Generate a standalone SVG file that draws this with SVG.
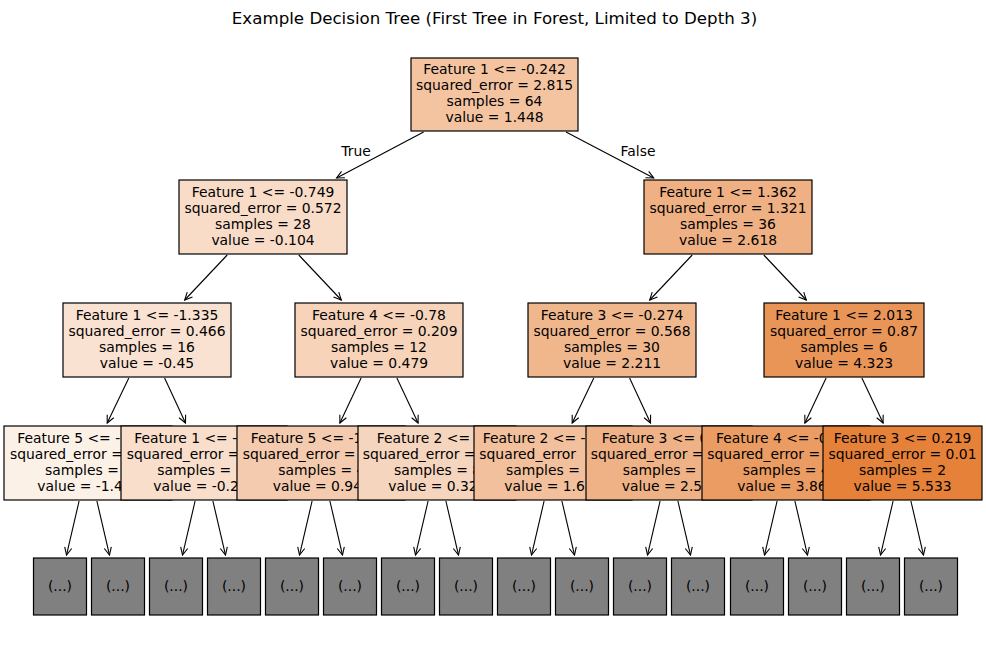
<svg xmlns="http://www.w3.org/2000/svg" width="986" height="658" viewBox="0 0 986 658">
<style>
text{font-family:"DejaVu Sans",Verdana,sans-serif;font-size:13.9px;fill:#000}
.c{text-anchor:middle}
.title{font-size:16.67px;text-anchor:middle}
.box{stroke:#000;stroke-width:1.2}
.leaf{fill:#808080;stroke:#000;stroke-width:1.2}
.edge{stroke:#000;stroke-width:1.1;fill:none;marker-end:url(#ah)}
</style>
<defs>
<marker id="ah" markerUnits="userSpaceOnUse" markerWidth="12" markerHeight="12" viewBox="-9 -6 12 12" refX="0" refY="0" orient="auto">
<path d="M-7.5,-3.6 L0,0 L-7.5,3.6" fill="none" stroke="#000" stroke-width="1.1"/>
</marker>
</defs>
<rect width="986" height="658" fill="#fff"/>
<text class="title" x="494.5" y="24">Example Decision Tree (First Tree in Forest, Limited to Depth 3)</text>

<g id="connectors">
<line class="edge" x1="423.6" y1="132" x2="336.6" y2="178"/>
<line class="edge" x1="566" y1="132" x2="653.7" y2="178"/>
<line class="edge" x1="227.2" y1="255" x2="184.7" y2="300"/>
<line class="edge" x1="298.8" y1="255" x2="341.3" y2="300"/>
<line class="edge" x1="692.2" y1="255" x2="649.7" y2="300"/>
<line class="edge" x1="763.8" y1="255" x2="806.3" y2="300"/>
<line class="edge" x1="128.8" y1="378" x2="107.2" y2="423"/>
<line class="edge" x1="164.6" y1="378" x2="185.5" y2="423"/>
<line class="edge" x1="361.1" y1="378" x2="339.9" y2="423"/>
<line class="edge" x1="396.9" y1="378" x2="418.1" y2="423"/>
<line class="edge" x1="593.8" y1="378" x2="572.2" y2="423"/>
<line class="edge" x1="629.6" y1="378" x2="650.5" y2="423"/>
<line class="edge" x1="826.1" y1="378" x2="804.9" y2="423"/>
<line class="edge" x1="861.9" y1="378" x2="883.1" y2="423"/>
<line class="edge" x1="79.1" y1="501" x2="66.5" y2="555"/>
<line class="edge" x1="96.9" y1="501" x2="109.5" y2="555"/>
<line class="edge" x1="195.1" y1="501" x2="182.5" y2="555"/>
<line class="edge" x1="212.9" y1="501" x2="225.5" y2="555"/>
<line class="edge" x1="312.1" y1="501" x2="299.5" y2="555"/>
<line class="edge" x1="329.9" y1="501" x2="342.5" y2="555"/>
<line class="edge" x1="428.1" y1="501" x2="415.5" y2="555"/>
<line class="edge" x1="445.9" y1="501" x2="458.5" y2="555"/>
<line class="edge" x1="544.1" y1="501" x2="531.5" y2="555"/>
<line class="edge" x1="561.9" y1="501" x2="574.5" y2="555"/>
<line class="edge" x1="660.1" y1="501" x2="647.5" y2="555"/>
<line class="edge" x1="677.9" y1="501" x2="690.5" y2="555"/>
<line class="edge" x1="777.1" y1="501" x2="764.5" y2="555"/>
<line class="edge" x1="794.9" y1="501" x2="807.5" y2="555"/>
<line class="edge" x1="893.1" y1="501" x2="880.5" y2="555"/>
<line class="edge" x1="910.9" y1="501" x2="923.5" y2="555"/>
<text class="c" x="356" y="156">True</text>
<text class="c" x="638" y="156">False</text>
</g>

<g id="n0">
<rect class="box" x="411" y="58" width="167" height="73" fill="#f4c4a1"/>
<text class="c" x="494.5" y="74">Feature 1 &lt;= -0.242</text>
<text class="c" x="494.5" y="90">squared_error = 2.815</text>
<text class="c" x="494.5" y="106">samples = 64</text>
<text class="c" x="494.5" y="122">value = 1.448</text>
</g>
<g id="n1">
<rect class="box" x="179" y="180" width="168" height="74" fill="#f8dcc8"/>
<text class="c" x="263" y="197">Feature 1 &lt;= -0.749</text>
<text class="c" x="263" y="213">squared_error = 0.572</text>
<text class="c" x="263" y="229">samples = 28</text>
<text class="c" x="263" y="245">value = -0.104</text>
</g>
<g id="n2">
<rect class="box" x="644" y="180" width="168" height="74" fill="#efb083"/>
<text class="c" x="728" y="197">Feature 1 &lt;= 1.362</text>
<text class="c" x="728" y="213">squared_error = 1.321</text>
<text class="c" x="728" y="229">samples = 36</text>
<text class="c" x="728" y="245">value = 2.618</text>
</g>
<g id="n3">
<rect class="box" x="63" y="303" width="168" height="74" fill="#f9e2d1"/>
<text class="c" x="147" y="320">Feature 1 &lt;= -1.335</text>
<text class="c" x="147" y="336">squared_error = 0.466</text>
<text class="c" x="147" y="352">samples = 16</text>
<text class="c" x="147" y="368">value = -0.45</text>
</g>
<g id="n4">
<rect class="box" x="295" y="303" width="168" height="74" fill="#f6d3b9"/>
<text class="c" x="379" y="320">Feature 4 &lt;= -0.78</text>
<text class="c" x="379" y="336">squared_error = 0.209</text>
<text class="c" x="379" y="352">samples = 12</text>
<text class="c" x="379" y="368">value = 0.479</text>
</g>
<g id="n5">
<rect class="box" x="528" y="303" width="168" height="74" fill="#f0b78d"/>
<text class="c" x="612" y="320">Feature 3 &lt;= -0.274</text>
<text class="c" x="612" y="336">squared_error = 0.568</text>
<text class="c" x="612" y="352">samples = 30</text>
<text class="c" x="612" y="368">value = 2.211</text>
</g>
<g id="n6">
<rect class="box" x="764" y="303" width="160" height="74" fill="#e99558"/>
<text class="c" x="844" y="320">Feature 1 &lt;= 2.013</text>
<text class="c" x="844" y="336">squared_error = 0.87</text>
<text class="c" x="844" y="352">samples = 6</text>
<text class="c" x="844" y="368">value = 4.323</text>
</g>

<g id="n7">
<rect class="box" x="4" y="426" width="168" height="74" fill="#fcf1e7"/>
<text x="17.3" y="443">Feature 5 &lt;= -</text>
<text x="10" y="459">squared_error =</text>
<text x="45" y="475">samples =</text>
<text x="37.3" y="491">value = -1.4</text>
</g>
<g id="n8">
<rect class="box" x="121" y="426" width="166" height="74" fill="#f8decb"/>
<text x="134.3" y="443">Feature 1 &lt;= -</text>
<text x="126.7" y="459">squared_error =</text>
<text x="157.3" y="475">samples = 1</text>
<text x="153.3" y="491">value = -0.2</text>
</g>
<g id="n9">
<rect class="box" x="237" y="426" width="168" height="74" fill="#f4cbae"/>
<text x="250.7" y="443">Feature 5 &lt;= -1</text>
<text x="242.7" y="459">squared_error =</text>
<text x="278.3" y="475">samples = 4</text>
<text x="272.7" y="491">value = 0.94</text>
</g>
<g id="n10">
<rect class="box" x="358" y="426" width="158" height="74" fill="#f6d5be"/>
<text x="376.7" y="443">Feature 2 &lt;=</text>
<text x="362.7" y="459">squared_error =</text>
<text x="394" y="475">samples = 8</text>
<text x="388.3" y="491">value = 0.32</text>
</g>
<g id="n11">
<rect class="box" x="474" y="426" width="158" height="74" fill="#f2c09c"/>
<text x="482.7" y="443">Feature 2 &lt;= -</text>
<text x="479.3" y="459">squared_error</text>
<text x="506" y="475">samples = 1</text>
<text x="504.3" y="491">value = 1.6</text>
</g>
<g id="n12">
<rect class="box" x="586" y="426" width="166" height="74" fill="#efb286"/>
<text x="601.7" y="443">Feature 3 &lt;= 0</text>
<text x="590.7" y="459">squared_error =</text>
<text x="622.7" y="475">samples =</text>
<text x="621.7" y="491">value = 2.5</text>
</g>
<g id="n13">
<rect class="box" x="702" y="426" width="168" height="74" fill="#eb9c63"/>
<text x="716" y="443">Feature 4 &lt;= -0</text>
<text x="707.3" y="459">squared_error =</text>
<text x="742.7" y="475">samples = 4</text>
<text x="737.3" y="491">value = 3.86</text>
</g>
<g id="n14">
<rect class="box" x="823" y="426" width="159" height="74" fill="#e58139"/>
<text class="c" x="902.5" y="443">Feature 3 &lt;= 0.219</text>
<text class="c" x="902.5" y="459">squared_error = 0.01</text>
<text class="c" x="902.5" y="475">samples = 2</text>
<text class="c" x="902.5" y="491">value = 5.533</text>
</g>

<g id="leaves">
<g id="l0"><rect class="leaf" x="33.5" y="558" width="53" height="57"/><text class="c" x="60" y="591">(...)</text></g>
<g id="l1"><rect class="leaf" x="91.5" y="558" width="53" height="57"/><text class="c" x="118" y="591">(...)</text></g>
<g id="l2"><rect class="leaf" x="149.5" y="558" width="53" height="57"/><text class="c" x="176" y="591">(...)</text></g>
<g id="l3"><rect class="leaf" x="207.5" y="558" width="53" height="57"/><text class="c" x="234" y="591">(...)</text></g>
<g id="l4"><rect class="leaf" x="265.5" y="558" width="53" height="57"/><text class="c" x="292" y="591">(...)</text></g>
<g id="l5"><rect class="leaf" x="323.5" y="558" width="53" height="57"/><text class="c" x="350" y="591">(...)</text></g>
<g id="l6"><rect class="leaf" x="381.5" y="558" width="53" height="57"/><text class="c" x="408" y="591">(...)</text></g>
<g id="l7"><rect class="leaf" x="439.5" y="558" width="53" height="57"/><text class="c" x="466" y="591">(...)</text></g>
<g id="l8"><rect class="leaf" x="497.5" y="558" width="53" height="57"/><text class="c" x="524" y="591">(...)</text></g>
<g id="l9"><rect class="leaf" x="555.5" y="558" width="53" height="57"/><text class="c" x="582" y="591">(...)</text></g>
<g id="l10"><rect class="leaf" x="613.5" y="558" width="53" height="57"/><text class="c" x="640" y="591">(...)</text></g>
<g id="l11"><rect class="leaf" x="671.5" y="558" width="53" height="57"/><text class="c" x="698" y="591">(...)</text></g>
<g id="l12"><rect class="leaf" x="730.5" y="558" width="53" height="57"/><text class="c" x="757" y="591">(...)</text></g>
<g id="l13"><rect class="leaf" x="788.5" y="558" width="53" height="57"/><text class="c" x="815" y="591">(...)</text></g>
<g id="l14"><rect class="leaf" x="846.5" y="558" width="53" height="57"/><text class="c" x="873" y="591">(...)</text></g>
<g id="l15"><rect class="leaf" x="904.5" y="558" width="53" height="57"/><text class="c" x="931" y="591">(...)</text></g>
</g>
</svg>
